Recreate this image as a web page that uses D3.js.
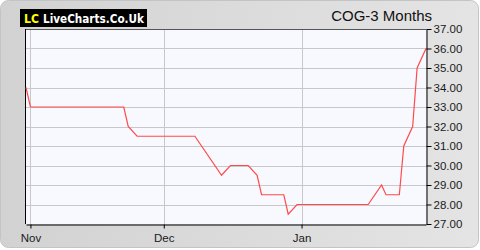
<!DOCTYPE html>
<html>
<head>
<meta charset="utf-8">
<script src="https://cdn.jsdelivr.net/npm/d3@7"></script>
<style>
  body { margin: 0; background: #fff; }
  svg { display: block; font-family: "Liberation Sans", Arial, sans-serif; }
</style>
</head>
<body>
<div id="chart"></div>
<script>
var title = 'COG-3 Months';
var dates = ['2014-10-31', '2014-11-01', '2014-11-22', '2014-11-23', '2014-11-25', '2014-12-08',
  '2014-12-14', '2014-12-16', '2014-12-20', '2014-12-22', '2014-12-23', '2014-12-28',
  '2014-12-29', '2014-12-31', '2015-01-16', '2015-01-19', '2015-01-20', '2015-01-23',
  '2015-01-24', '2015-01-26', '2015-01-27', '2015-01-29'];
var prices = [34, 33, 33, 32, 31.5, 31.5, 29.5, 30, 30, 29.5, 28.5, 28.5,
  27.5, 28, 28, 29, 28.5, 28.5, 31, 32, 35, 36];
var monthTicks = ['2014-11-01', '2014-12-01', '2015-01-01'];
var yTicks = [27, 28, 29, 30, 31, 32, 33, 34, 35, 36, 37];

var W = 480, H = 250;
var margin = { top: 29, right: 54, bottom: 26, left: 25 };
var width = W - margin.left - margin.right;
var height = H - margin.top - margin.bottom;
var parse = d3.timeParse('%Y-%m-%d');

var data = dates.map((d, i) => ({ date: parse(d), value: prices[i] }));

var svg = d3.select('#chart')
  .append('svg')
    .attr('width', W)
    .attr('height', H);

var defs = svg.append('defs');
var grad = defs.append('linearGradient')
  .attr('id', 'bg')
  .attr('x1', '0').attr('y1', '0').attr('x2', '1').attr('y2', '0');
grad.append('stop').attr('offset', '0').attr('stop-color', '#d2d2d2');
grad.append('stop').attr('offset', '1').attr('stop-color', '#e4e4e4');

svg.append('rect')
  .attr('x', 0.5).attr('y', 0.5)
  .attr('width', W - 2).attr('height', H - 3)
  .attr('rx', 8)
  .attr('fill', 'url(#bg)')
  .attr('stroke', '#c4c4c4');

// logo
var logo = svg.append('g').attr('transform', 'translate(20, 9)');
logo.append('rect').attr('width', 127).attr('height', 18).attr('fill', '#000');
logo.append('text')
  .attr('x', 4).attr('y', 13.5)
  .attr('textLength', 15)
  .attr('lengthAdjust', 'spacingAndGlyphs')
  .attr('fill', '#ffff00')
  .style('font-family', '"DejaVu Sans", Verdana, sans-serif')
  .style('font-size', '12px')
  .style('font-weight', 'bold')
  .text('LC');
logo.append('text')
  .attr('x', 23).attr('y', 13.5)
  .attr('textLength', 101)
  .attr('lengthAdjust', 'spacingAndGlyphs')
  .attr('fill', '#fff')
  .style('font-family', '"DejaVu Sans", Verdana, sans-serif')
  .style('font-size', '12px')
  .style('font-weight', 'bold')
  .text('LiveCharts.Co.Uk');

svg.append('text')
  .attr('x', 432).attr('y', 21)
  .attr('text-anchor', 'end')
  .attr('fill', '#111')
  .style('font-size', '15px')
  .text(title);

var g = svg.append('g')
  .attr('transform', `translate(${margin.left}, ${margin.top})`);

var x = d3.scaleTime()
  .domain(d3.extent(data, d => d.date))
  .range([1, width]);

var y = d3.scaleLinear()
  .domain([d3.min(yTicks), d3.max(yTicks)])
  .range([height, 0]);

g.append('rect')
  .attr('width', width).attr('height', height)
  .attr('fill', '#f8f9ff');

// grid
g.selectAll('.hgrid')
  .data(yTicks.slice(1, -1))
  .enter().append('line')
    .attr('class', 'hgrid')
    .attr('x1', 0).attr('x2', width)
    .attr('y1', d => Math.round(y(d)) + 0.5)
    .attr('y2', d => Math.round(y(d)) + 0.5)
    .attr('stroke', '#c8c8c8');

g.selectAll('.vgrid')
  .data(monthTicks.map(parse))
  .enter().append('line')
    .attr('class', 'vgrid')
    .attr('x1', d => Math.round(x(d)) + 0.5)
    .attr('x2', d => Math.round(x(d)) + 0.5)
    .attr('y1', 0).attr('y2', height)
    .attr('stroke', '#c8c8c8');

// border
g.append('line').attr('x1', 0).attr('x2', width).attr('y1', 0.5).attr('y2', 0.5).attr('stroke', '#555');
g.append('line').attr('x1', 0.5).attr('x2', 0.5).attr('y1', 0).attr('y2', height).attr('stroke', '#000');

var line = d3.line()
  .x(d => x(d.date))
  .y(d => y(d.value));

g.append('path')
  .datum(data)
  .attr('fill', 'none')
  .attr('stroke', '#ff4a4a')
  .attr('stroke-width', 1.2)
  .attr('d', line);

var xAxis = g.append('g')
  .attr('transform', `translate(0, ${height + 0.5})`)
  .call(d3.axisBottom(x)
    .tickValues(monthTicks.map(parse))
    .tickFormat(d3.timeFormat('%b'))
    .tickSize(4)
    .tickSizeOuter(0));

var yAxis = g.append('g')
  .attr('transform', `translate(${width + 0.5}, 0)`)
  .call(d3.axisRight(y)
    .tickValues(yTicks)
    .tickFormat(d3.format('.2f'))
    .tickSize(5)
    .tickSizeOuter(0));

[xAxis, yAxis].forEach(a => {
  a.select('.domain').attr('stroke', '#000');
  a.selectAll('.tick line').attr('stroke', '#000');
  a.selectAll('.tick text')
    .attr('fill', '#1a1a1a')
    .style('font-size', '11.5px')
    .style('font-family', '"Liberation Sans", Arial, sans-serif');
});
xAxis.selectAll('.tick text').attr('dy', '0.95em');
yAxis.selectAll('.tick text').attr('x', 7);
</script>
</body>
</html>
